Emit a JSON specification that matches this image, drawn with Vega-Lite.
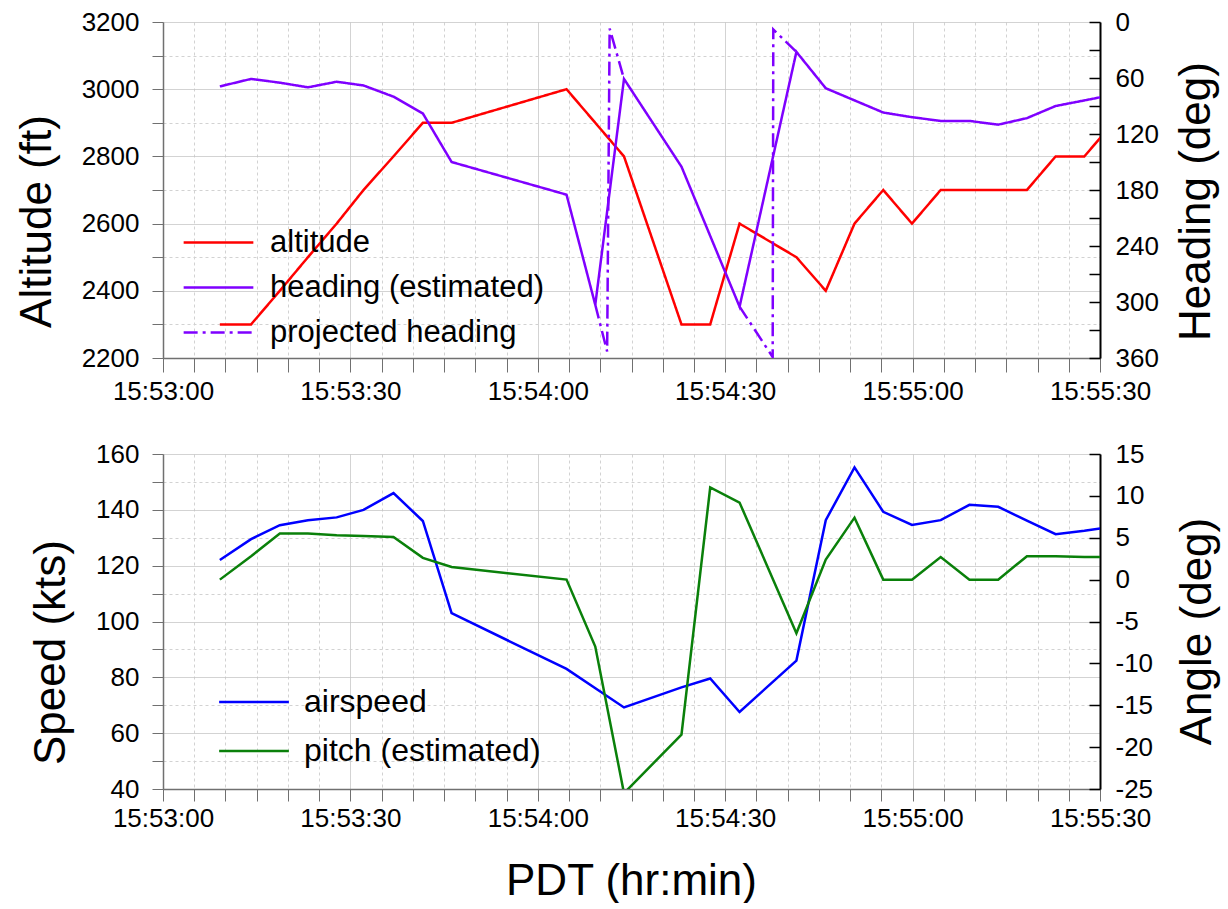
{
  "$schema": "https://vega.github.io/schema/vega-lite/v6.json",
  "background": "white",
  "padding": {"left": 15, "top": 9, "right": 5, "bottom": 0},
  "config": {
    "font": "Liberation Sans",
    "view": {"stroke": null},
    "axis": {"labelFont": "Liberation Sans", "titleFont": "Liberation Sans", "labelColor": "black", "titleColor": "black", "labelFontSize": 26, "titleFontSize": 44, "titleFontWeight": "normal"},
    "legend": {"labelFont": "Liberation Sans", "labelColor": "black", "labelLimit": 500}
  },
  "datasets": {
    "topdata": [
      {"series": "altitude", "seg": "a", "sec": 9.1, "value": 2300},
      {"series": "altitude", "seg": "a", "sec": 14.1, "value": 2300},
      {"series": "altitude", "seg": "a", "sec": 18.7, "value": 2400},
      {"series": "altitude", "seg": "a", "sec": 23.2, "value": 2500},
      {"series": "altitude", "seg": "a", "sec": 27.8, "value": 2600},
      {"series": "altitude", "seg": "a", "sec": 32.1, "value": 2700},
      {"series": "altitude", "seg": "a", "sec": 36.9, "value": 2800},
      {"series": "altitude", "seg": "a", "sec": 41.6, "value": 2900},
      {"series": "altitude", "seg": "a", "sec": 46.2, "value": 2900},
      {"series": "altitude", "seg": "a", "sec": 64.6, "value": 3000},
      {"series": "altitude", "seg": "a", "sec": 69.2, "value": 2900},
      {"series": "altitude", "seg": "a", "sec": 73.8, "value": 2800},
      {"series": "altitude", "seg": "a", "sec": 83.0, "value": 2300},
      {"series": "altitude", "seg": "a", "sec": 87.6, "value": 2300},
      {"series": "altitude", "seg": "a", "sec": 92.3, "value": 2600},
      {"series": "altitude", "seg": "a", "sec": 101.4, "value": 2500},
      {"series": "altitude", "seg": "a", "sec": 106.1, "value": 2400},
      {"series": "altitude", "seg": "a", "sec": 110.7, "value": 2600},
      {"series": "altitude", "seg": "a", "sec": 115.3, "value": 2700},
      {"series": "altitude", "seg": "a", "sec": 119.9, "value": 2600},
      {"series": "altitude", "seg": "a", "sec": 124.5, "value": 2700},
      {"series": "altitude", "seg": "a", "sec": 129.1, "value": 2700},
      {"series": "altitude", "seg": "a", "sec": 133.7, "value": 2700},
      {"series": "altitude", "seg": "a", "sec": 138.3, "value": 2700},
      {"series": "altitude", "seg": "a", "sec": 142.9, "value": 2800},
      {"series": "altitude", "seg": "a", "sec": 147.5, "value": 2800},
      {"series": "altitude", "seg": "a", "sec": 152.1, "value": 2900},
      {"series": "heading (estimated)", "seg": "h", "sec": 9.1, "value": 69},
      {"series": "heading (estimated)", "seg": "h", "sec": 14.1, "value": 61},
      {"series": "heading (estimated)", "seg": "h", "sec": 18.7, "value": 65},
      {"series": "heading (estimated)", "seg": "h", "sec": 23.2, "value": 70},
      {"series": "heading (estimated)", "seg": "h", "sec": 27.8, "value": 64},
      {"series": "heading (estimated)", "seg": "h", "sec": 32.1, "value": 68},
      {"series": "heading (estimated)", "seg": "h", "sec": 36.9, "value": 80},
      {"series": "heading (estimated)", "seg": "h", "sec": 41.6, "value": 98},
      {"series": "heading (estimated)", "seg": "h", "sec": 46.2, "value": 150},
      {"series": "heading (estimated)", "seg": "h", "sec": 64.6, "value": 185},
      {"series": "heading (estimated)", "seg": "h", "sec": 69.2, "value": 303},
      {"series": "heading (estimated)", "seg": "h", "sec": 73.8, "value": 61},
      {"series": "heading (estimated)", "seg": "h", "sec": 83.0, "value": 155},
      {"series": "heading (estimated)", "seg": "h", "sec": 92.3, "value": 305},
      {"series": "heading (estimated)", "seg": "h", "sec": 101.4, "value": 32},
      {"series": "heading (estimated)", "seg": "h", "sec": 106.1, "value": 71},
      {"series": "heading (estimated)", "seg": "h", "sec": 115.3, "value": 97},
      {"series": "heading (estimated)", "seg": "h", "sec": 119.9, "value": 102},
      {"series": "heading (estimated)", "seg": "h", "sec": 124.5, "value": 106},
      {"series": "heading (estimated)", "seg": "h", "sec": 129.1, "value": 106},
      {"series": "heading (estimated)", "seg": "h", "sec": 133.7, "value": 110},
      {"series": "heading (estimated)", "seg": "h", "sec": 138.3, "value": 103},
      {"series": "heading (estimated)", "seg": "h", "sec": 142.9, "value": 90},
      {"series": "heading (estimated)", "seg": "h", "sec": 147.5, "value": 84},
      {"series": "heading (estimated)", "seg": "h", "sec": 152.1, "value": 78},
      {"series": "projected heading", "seg": "p1", "sec": 69.2, "value": 303},
      {"series": "projected heading", "seg": "p1", "sec": 71.1, "value": 353},
      {"series": "projected heading", "seg": "p1", "sec": 71.5, "value": 7},
      {"series": "projected heading", "seg": "p1", "sec": 73.8, "value": 61},
      {"series": "projected heading", "seg": "p2", "sec": 92.3, "value": 305},
      {"series": "projected heading", "seg": "p2", "sec": 97.6, "value": 359},
      {"series": "projected heading", "seg": "p2", "sec": 97.7, "value": 8},
      {"series": "projected heading", "seg": "p2", "sec": 101.4, "value": 32}
    ],
    "bottomdata": [
      {"series": "airspeed", "sec": 9.1, "value": 122},
      {"series": "airspeed", "sec": 14.1, "value": 129.5},
      {"series": "airspeed", "sec": 18.7, "value": 134.5},
      {"series": "airspeed", "sec": 23.2, "value": 136.3},
      {"series": "airspeed", "sec": 27.8, "value": 137.3},
      {"series": "airspeed", "sec": 32.1, "value": 140},
      {"series": "airspeed", "sec": 36.9, "value": 146},
      {"series": "airspeed", "sec": 41.6, "value": 136},
      {"series": "airspeed", "sec": 46.2, "value": 103},
      {"series": "airspeed", "sec": 64.6, "value": 83},
      {"series": "airspeed", "sec": 73.8, "value": 69.2},
      {"series": "airspeed", "sec": 83.0, "value": 76.4},
      {"series": "airspeed", "sec": 87.6, "value": 79.6},
      {"series": "airspeed", "sec": 92.3, "value": 67.6},
      {"series": "airspeed", "sec": 101.4, "value": 86},
      {"series": "airspeed", "sec": 106.1, "value": 136.3},
      {"series": "airspeed", "sec": 110.7, "value": 155.2},
      {"series": "airspeed", "sec": 115.3, "value": 139.3},
      {"series": "airspeed", "sec": 119.9, "value": 134.6},
      {"series": "airspeed", "sec": 124.5, "value": 136.3},
      {"series": "airspeed", "sec": 129.1, "value": 141.8},
      {"series": "airspeed", "sec": 133.7, "value": 141.1},
      {"series": "airspeed", "sec": 138.3, "value": 136.1},
      {"series": "airspeed", "sec": 142.9, "value": 131.3},
      {"series": "airspeed", "sec": 147.5, "value": 132.5},
      {"series": "airspeed", "sec": 152.1, "value": 134},
      {"series": "pitch (estimated)", "sec": 9.1, "value": 0},
      {"series": "pitch (estimated)", "sec": 14.1, "value": 2.8},
      {"series": "pitch (estimated)", "sec": 18.7, "value": 5.5},
      {"series": "pitch (estimated)", "sec": 23.2, "value": 5.5},
      {"series": "pitch (estimated)", "sec": 27.8, "value": 5.3},
      {"series": "pitch (estimated)", "sec": 32.1, "value": 5.2},
      {"series": "pitch (estimated)", "sec": 36.9, "value": 5.1},
      {"series": "pitch (estimated)", "sec": 41.6, "value": 2.6},
      {"series": "pitch (estimated)", "sec": 46.2, "value": 1.5},
      {"series": "pitch (estimated)", "sec": 64.6, "value": 0},
      {"series": "pitch (estimated)", "sec": 69.2, "value": -8},
      {"series": "pitch (estimated)", "sec": 73.8, "value": -25.5},
      {"series": "pitch (estimated)", "sec": 83.0, "value": -18.5},
      {"series": "pitch (estimated)", "sec": 87.6, "value": 11},
      {"series": "pitch (estimated)", "sec": 92.3, "value": 9.2},
      {"series": "pitch (estimated)", "sec": 101.4, "value": -6.4},
      {"series": "pitch (estimated)", "sec": 106.1, "value": 2.4},
      {"series": "pitch (estimated)", "sec": 110.7, "value": 7.4},
      {"series": "pitch (estimated)", "sec": 115.3, "value": 0},
      {"series": "pitch (estimated)", "sec": 119.9, "value": 0},
      {"series": "pitch (estimated)", "sec": 124.5, "value": 2.7},
      {"series": "pitch (estimated)", "sec": 129.1, "value": 0},
      {"series": "pitch (estimated)", "sec": 133.7, "value": 0},
      {"series": "pitch (estimated)", "sec": 138.3, "value": 2.8},
      {"series": "pitch (estimated)", "sec": 142.9, "value": 2.8},
      {"series": "pitch (estimated)", "sec": 147.5, "value": 2.7},
      {"series": "pitch (estimated)", "sec": 152.1, "value": 2.7}
    ]
  },
  "spacing": 37,
  "resolve": {"scale": {"color": "independent", "strokeDash": "independent"}, "legend": {"color": "independent", "strokeDash": "independent"}},
  "vconcat": [
    {
      "width": 937,
      "height": 336,
      "data": {"name": "topdata"},
      "encoding": {
        "x": {
          "field": "sec", "type": "quantitative",
          "scale": {"domain": [0, 150], "nice": false, "zero": false},
          "axis": {
            "title": null,
            "values": [0, 5, 10, 15, 20, 25, 30, 35, 40, 45, 50, 55, 60, 65, 70, 75, 80, 85, 90, 95, 100, 105, 110, 115, 120, 125, 130, 135, 140, 145, 150],
            "labelExpr": "datum.value % 30 === 0 ? '15:' + (53 + floor(datum.value / 60)) + ':' + (datum.value % 60 < 10 ? '0' : '') + (datum.value % 60) : ''",
            "labelOverlap": false, "labelFlush": false, "labelBound": false, "labelPadding": 6,
            "grid": true,
            "gridColor": {"condition": {"test": "datum.value % 30 === 0", "value": "#c4c4c4"}, "value": "#d2d2d2"},
            "gridDash": {"condition": {"test": "datum.value % 30 === 0", "value": [1, 0]}, "value": [3, 3]},
            "tickSize": 14,
            "tickColor": "#707070", "tickWidth": 1, "domainColor": "#707070", "domainWidth": 1.5
          }
        },
        "color": {
          "field": "series", "type": "nominal",
          "scale": {"domain": ["altitude", "heading (estimated)", "projected heading"], "range": ["#ff0000", "#7f00ff", "#7f00ff"]},
          "legend": {"title": null, "orient": "none", "legendX": 40, "legendY": 205, "symbolType": "M-3,0H3", "symbolSize": 540, "symbolStrokeWidth": 2.5, "labelFontSize": 31, "labelOffset": 36, "rowPadding": 13, "labelLimit": 500}
        },
        "strokeDash": {
          "field": "series", "type": "nominal",
          "scale": {"domain": ["altitude", "heading (estimated)", "projected heading"], "range": [[1, 0], [1, 0], [14, 5, 3, 5]]},
          "legend": {"title": null, "orient": "none", "legendX": 40, "legendY": 205, "symbolType": "M-3,0H3", "symbolSize": 540, "symbolStrokeWidth": 2.5, "labelFontSize": 31, "labelOffset": 36, "rowPadding": 13, "labelLimit": 500}
        }
      },
      "layer": [
        {
          "transform": [{"filter": "datum.series === 'altitude'"}],
          "mark": {"type": "line", "strokeWidth": 2.5, "clip": true},
          "encoding": {
            "y": {
              "field": "value", "type": "quantitative",
              "scale": {"domain": [2200, 3200], "nice": false, "zero": false},
              "axis": {
                "orient": "left", "title": "Altitude (ft)",
                "values": [2200, 2300, 2400, 2500, 2600, 2700, 2800, 2900, 3000, 3100, 3200],
                "labelExpr": "datum.value % 200 === 0 ? '' + datum.value : ''",
                "labelPadding": 13,
                "grid": true,
                "gridColor": {"condition": {"test": "datum.value % 200 === 0", "value": "#c4c4c4"}, "value": "#d2d2d2"},
                "gridDash": {"condition": {"test": "datum.value % 200 === 0", "value": [1, 0]}, "value": [3, 3]},
                "tickSize": 11,
                "tickColor": "#707070", "domainColor": "#707070", "domainWidth": 1.5,
                "titleX": -126, "titleY": 199, "titleAngle": 270, "titleAlign": "center", "titleBaseline": "middle"
              }
            }
          }
        },
        {
          "transform": [{"filter": "datum.series !== 'altitude'"}],
          "mark": {"type": "line", "strokeWidth": 2.5, "clip": true},
          "encoding": {
            "detail": {"field": "seg", "type": "nominal"},
            "y": {
              "field": "value", "type": "quantitative",
              "scale": {"domain": [0, 360], "reverse": true, "nice": false},
              "axis": {
                "orient": "right", "title": "Heading (deg)",
                "values": [0, 30, 60, 90, 120, 150, 180, 210, 240, 270, 300, 330, 360],
                "labelExpr": "datum.value % 60 === 0 ? '' + datum.value : ''",
                "grid": false,
                "tickSize": -11,
                "labelPadding": 26,
                "tickColor": "black", "tickWidth": 1.5, "domainColor": "black", "domainWidth": 2,
                "titleX": 96, "titleY": 179, "titleAngle": 270, "titleAlign": "center", "titleBaseline": "middle"
              }
            }
          }
        }
      ],
      "resolve": {"scale": {"y": "independent"}}
    },
    {
      "width": 937,
      "height": 335,
      "data": {"name": "bottomdata"},
      "encoding": {
        "x": {
          "field": "sec", "type": "quantitative",
          "scale": {"domain": [0, 150], "nice": false, "zero": false},
          "axis": {
            "title": "PDT (hr:min)",
            "values": [0, 5, 10, 15, 20, 25, 30, 35, 40, 45, 50, 55, 60, 65, 70, 75, 80, 85, 90, 95, 100, 105, 110, 115, 120, 125, 130, 135, 140, 145, 150],
            "labelExpr": "datum.value % 30 === 0 ? '15:' + (53 + floor(datum.value / 60)) + ':' + (datum.value % 60 < 10 ? '0' : '') + (datum.value % 60) : ''",
            "labelOverlap": false, "labelFlush": false, "labelBound": false, "labelPadding": 4,
            "grid": true,
            "gridColor": {"condition": {"test": "datum.value % 30 === 0", "value": "#c4c4c4"}, "value": "#d2d2d2"},
            "gridDash": {"condition": {"test": "datum.value % 30 === 0", "value": [1, 0]}, "value": [3, 3]},
            "tickSize": 12,
            "tickColor": "#707070", "tickWidth": 1, "domainColor": "#707070", "domainWidth": 1.5,
            "titleX": 468, "titleY": 92, "titleAlign": "center", "titleBaseline": "middle"
          }
        },
        "color": {
          "field": "series", "type": "nominal",
          "scale": {"domain": ["airspeed", "pitch (estimated)"], "range": ["#0000ff", "#0a800a"]},
          "legend": {"title": null, "orient": "none", "legendX": 75, "legendY": 232, "symbolType": "M-3,0H3", "symbolSize": 540, "symbolStrokeWidth": 2.5, "labelFontSize": 32, "labelOffset": 34, "rowPadding": 17, "labelLimit": 500}
        }
      },
      "layer": [
        {
          "transform": [{"filter": "datum.series === 'airspeed'"}],
          "mark": {"type": "line", "strokeWidth": 2.5, "clip": true},
          "encoding": {
            "y": {
              "field": "value", "type": "quantitative",
              "scale": {"domain": [40, 160], "nice": false, "zero": false},
              "axis": {
                "orient": "left", "title": "Speed (kts)",
                "values": [40, 50, 60, 70, 80, 90, 100, 110, 120, 130, 140, 150, 160],
                "labelExpr": "datum.value % 20 === 0 ? '' + datum.value : ''",
                "labelPadding": 13,
                "grid": true,
                "gridColor": {"condition": {"test": "datum.value % 20 === 0", "value": "#c4c4c4"}, "value": "#d2d2d2"},
                "gridDash": {"condition": {"test": "datum.value % 20 === 0", "value": [1, 0]}, "value": [3, 3]},
                "tickSize": 11,
                "tickColor": "#707070", "domainColor": "#707070", "domainWidth": 1.5,
                "titleX": -112, "titleY": 198, "titleAngle": 270, "titleAlign": "center", "titleBaseline": "middle"
              }
            }
          }
        },
        {
          "transform": [{"filter": "datum.series === 'pitch (estimated)'"}],
          "mark": {"type": "line", "strokeWidth": 2.5, "clip": true},
          "encoding": {
            "y": {
              "field": "value", "type": "quantitative",
              "scale": {"domain": [-25, 15], "nice": false, "zero": false},
              "axis": {
                "orient": "right", "title": "Angle (deg)",
                "values": [-25, -20, -15, -10, -5, 0, 5, 10, 15],
                "labelExpr": "'' + datum.value",
                "grid": false,
                "tickSize": -11,
                "labelPadding": 26,
                "tickColor": "black", "tickWidth": 1.5, "domainColor": "black", "domainWidth": 2,
                "titleX": 97, "titleY": 177, "titleAngle": 270, "titleAlign": "center", "titleBaseline": "middle"
              }
            }
          }
        }
      ],
      "resolve": {"scale": {"y": "independent"}}
    }
  ]
}
